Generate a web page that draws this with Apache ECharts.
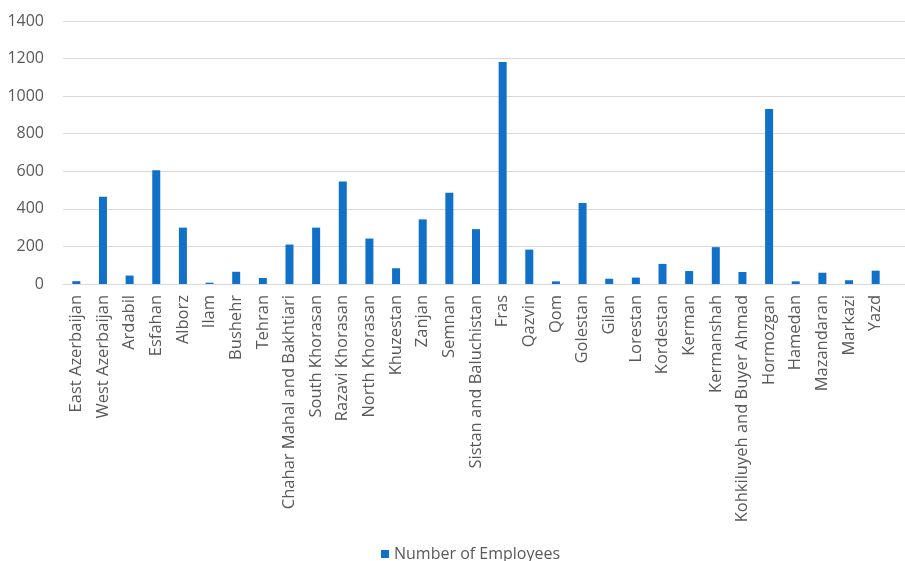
<!DOCTYPE html>
<html>
<head>
<meta charset="utf-8">
<script src="https://cdn.jsdelivr.net/npm/echarts@6/dist/echarts.min.js"></script>
<style>html,body{margin:0;padding:0;background:#fff}#c{width:905px;height:561px}</style>
</head>
<body>
<div id="c"></div>
<script>
const categories = ["East Azerbaijan","West Azerbaijan","Ardabil","Esfahan","Alborz","Ilam","Bushehr","Tehran","Chahar Mahal and Bakhtiari","South Khorasan","Razavi Khorasan","North Khorasan","Khuzestan","Zanjan","Semnan","Sistan and Baluchistan","Fras","Qazvin","Qom","Golestan","Gilan","Lorestan","Kordestan","Kerman","Kermanshah","Kohkiluyeh and Buyer Ahmad","Hormozgan","Hamedan","Mazandaran","Markazi","Yazd"];
const employees = [15,465,45,605,300,7,65,32,210,300,545,242,84,344,486,292,1182,183,14,431,28,34,107,69,196,64,931,14,60,20,71];
const seriesName = "Number of Employees";
const yMin = 0, yMax = 1400, yStep = 200;

const font = "'Open Sans', 'Liberation Sans', sans-serif";
const chart = echarts.init(document.getElementById('c'));
chart.setOption({
  animation: false,
  textStyle: {fontFamily: font},
  grid: [
    {left: 63, right: 16, top: 21, bottom: 277, containLabel: false},
    {left: 63, right: 0, top: 21, bottom: 277, containLabel: false}
  ],
  legend: {
    data: [seriesName],
    left: 376, top: 541,
    icon: 'rect', itemWidth: 8, itemHeight: 8, itemGap: 6,
    textStyle: {color: '#595959', fontSize: 16, fontFamily: font}
  },
  xAxis: [
    {
      type: 'category', gridIndex: 0, data: categories,
      axisLine: {show: true, lineStyle: {color: '#d9d9d9', width: 1}},
      axisTick: {show: false},
      axisLabel: {rotate: 90, interval: 0, margin: 11, color: '#595959', fontSize: 16.5, fontFamily: font}
    },
    {type: 'value', gridIndex: 1, show: false, min: 0, max: 1}
  ],
  yAxis: [
    {
      type: 'value', gridIndex: 0, min: yMin, max: yMax, interval: yStep,
      axisLine: {show: false}, axisTick: {show: false},
      splitLine: {show: false},
      axisLabel: {color: '#595959', fontSize: 16, margin: 19, fontFamily: font, formatter: v => String(v)}
    },
    {
      type: 'value', gridIndex: 1, min: yMin, max: yMax, interval: yStep,
      axisLine: {show: false}, axisTick: {show: false},
      axisLabel: {show: false},
      splitLine: {show: true, lineStyle: {color: '#d9d9d9', width: 1}}
    }
  ],
  series: [{
    name: seriesName, type: 'bar', xAxisIndex: 0, yAxisIndex: 0,
    data: employees, barWidth: 8, z: 3,
    itemStyle: {color: '#1170C8'}
  }]
});
</script>
</body>
</html>
